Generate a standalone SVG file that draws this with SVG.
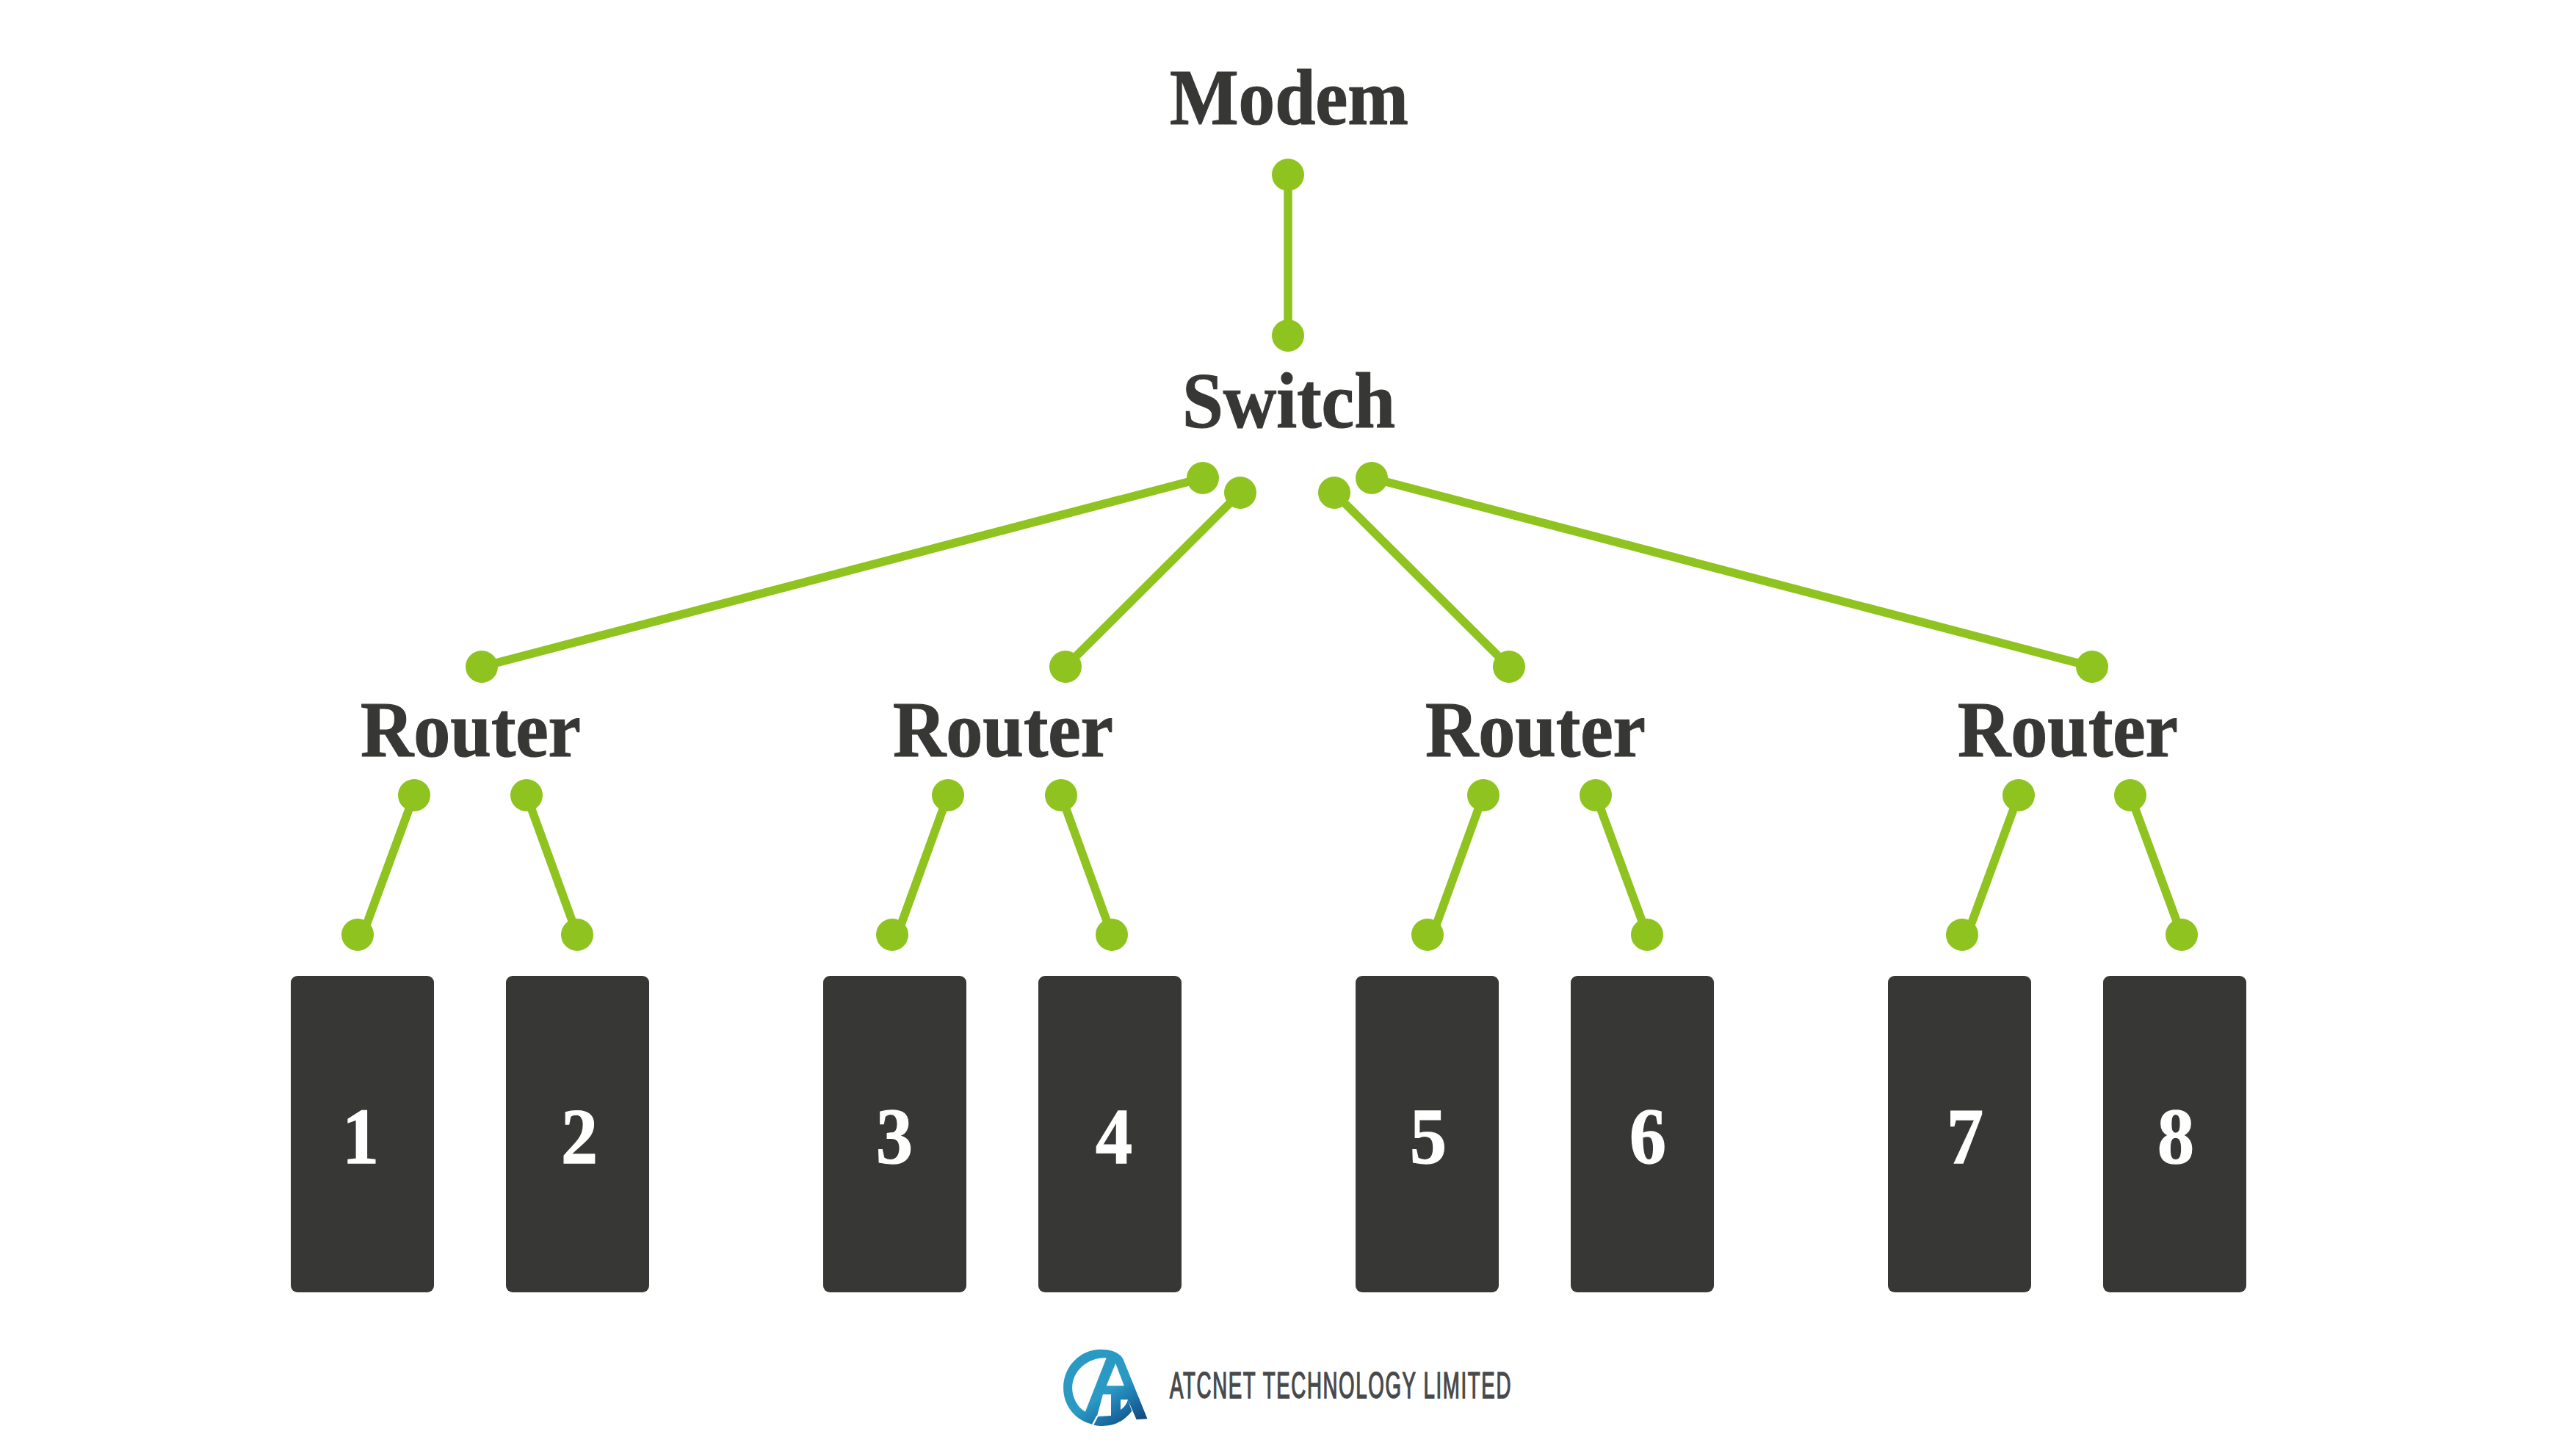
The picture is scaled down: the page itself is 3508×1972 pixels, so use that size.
<svg xmlns="http://www.w3.org/2000/svg" width="3508" height="1972" viewBox="0 0 3508 1972">
<style>
.t{font-family:"Liberation Serif","Times New Roman",serif;font-weight:700;font-size:109px;fill:#373735;stroke:#373735;stroke-width:1.2px}
.n{font-family:"Liberation Serif","Times New Roman",serif;font-weight:700;font-size:109px;fill:#fff;stroke:#fff;stroke-width:1.4px}
.b{fill:#373735}
.c line{stroke:#8fc31f;stroke-width:11.5}
.c circle{fill:#8fc31f;r:22px}
.w{fill:#fff}
</style>
<defs><linearGradient id="lg" gradientUnits="userSpaceOnUse" x1="150" y1="210" x2="335" y2="400"><stop offset="0.4" stop-color="#2a9ac5"/><stop offset="0.72" stop-color="#1a6da3"/><stop offset="1" stop-color="#13457a"/></linearGradient></defs>
<rect width="3508" height="1972" fill="#fff"/>
<g id="connectors" class="c">
<line x1="1754" y1="238" x2="1754" y2="457"/><circle cx="1754" cy="238"/><circle cx="1754" cy="457"/>
<line x1="1638" y1="651" x2="656" y2="908"/><circle cx="1638" cy="651"/><circle cx="656" cy="908"/>
<line x1="1689" y1="671" x2="1451" y2="908"/><circle cx="1689" cy="671"/><circle cx="1451" cy="908"/>
<line x1="1817" y1="671" x2="2055" y2="908"/><circle cx="1817" cy="671"/><circle cx="2055" cy="908"/>
<line x1="1868" y1="651" x2="2849" y2="908"/><circle cx="1868" cy="651"/><circle cx="2849" cy="908"/>
<line x1="564" y1="1083" x2="494" y2="1273"/><circle cx="564" cy="1083"/><circle cx="487" cy="1273"/>
<line x1="717" y1="1083" x2="786" y2="1273"/><circle cx="717" cy="1083"/><circle cx="786" cy="1273"/>
<line x1="1291" y1="1083" x2="1222" y2="1273"/><circle cx="1291" cy="1083"/><circle cx="1215" cy="1273"/>
<line x1="1445" y1="1083" x2="1514" y2="1273"/><circle cx="1445" cy="1083"/><circle cx="1514" cy="1273"/>
<line x1="2020" y1="1083" x2="1951" y2="1273"/><circle cx="2020" cy="1083"/><circle cx="1944" cy="1273"/>
<line x1="2173" y1="1083" x2="2243" y2="1273"/><circle cx="2173" cy="1083"/><circle cx="2243" cy="1273"/>
<line x1="2749" y1="1083" x2="2679" y2="1273"/><circle cx="2749" cy="1083"/><circle cx="2672" cy="1273"/>
<line x1="2901" y1="1083" x2="2971" y2="1273"/><circle cx="2901" cy="1083"/><circle cx="2971" cy="1273"/>
</g>
<g id="modem"><text class="t" x="1593" y="169" textLength="325" lengthAdjust="spacingAndGlyphs">Modem</text></g>
<g id="switch"><text class="t" x="1610" y="582" textLength="290" lengthAdjust="spacingAndGlyphs">Switch</text></g>
<g id="router-1"><text class="t" x="491" y="1030" textLength="300" lengthAdjust="spacingAndGlyphs">Router</text></g>
<g id="router-2"><text class="t" x="1216" y="1030" textLength="300" lengthAdjust="spacingAndGlyphs">Router</text></g>
<g id="router-3"><text class="t" x="1941" y="1030" textLength="300" lengthAdjust="spacingAndGlyphs">Router</text></g>
<g id="router-4"><text class="t" x="2666" y="1030" textLength="300" lengthAdjust="spacingAndGlyphs">Router</text></g>
<g id="device-1"><rect class="b" x="396" y="1329" width="195" height="431" rx="9"/><text class="n" x="466" y="1584" textLength="50" lengthAdjust="spacingAndGlyphs">1</text></g>
<g id="device-2"><rect class="b" x="689" y="1329" width="195" height="431" rx="9"/><text class="n" x="764" y="1584" textLength="50" lengthAdjust="spacingAndGlyphs">2</text></g>
<g id="device-3"><rect class="b" x="1121" y="1329" width="195" height="431" rx="9"/><text class="n" x="1193" y="1584" textLength="50" lengthAdjust="spacingAndGlyphs">3</text></g>
<g id="device-4"><rect class="b" x="1414" y="1329" width="195" height="431" rx="9"/><text class="n" x="1492" y="1584" textLength="50" lengthAdjust="spacingAndGlyphs">4</text></g>
<g id="device-5"><rect class="b" x="1846" y="1329" width="195" height="431" rx="9"/><text class="n" x="1920" y="1584" textLength="50" lengthAdjust="spacingAndGlyphs">5</text></g>
<g id="device-6"><rect class="b" x="2139" y="1329" width="195" height="431" rx="9"/><text class="n" x="2219" y="1584" textLength="50" lengthAdjust="spacingAndGlyphs">6</text></g>
<g id="device-7"><rect class="b" x="2571" y="1329" width="195" height="431" rx="9"/><text class="n" x="2651" y="1584" textLength="50" lengthAdjust="spacingAndGlyphs">7</text></g>
<g id="device-8"><rect class="b" x="2864" y="1329" width="195" height="431" rx="9"/><text class="n" x="2938" y="1584" textLength="50" lengthAdjust="spacingAndGlyphs">8</text></g>
<g id="logo">
<g transform="translate(1400,1800) scale(0.4808,0.3333)">
<path fill="url(#lg)" d="M183 420C130 400 100 340 100 270C100 180 150 113 205 113C240 113 262 130 270 155L338 397L307 400L283 320L294 365C270 410 240 428 205 426Q193 426 183 420Z"/>
<path class="w" d="M222 148C170 145 125 200 125 270C125 310 140 350 162 368Z"/>
<path class="w" d="M248 170L272 262L222 262Z"/>
<path class="w" d="M212 297L235 297L235 384L195 388Z"/>
<path class="w" d="M262 318L283 318Q278 345 262 360Z"/>
<path d="M196 386L183 422" stroke="#fff" stroke-width="5" fill="none"/>
</g>
<text x="1593" y="1904" textLength="466" lengthAdjust="spacingAndGlyphs" style="font-family:'Liberation Sans Narrow','Liberation Sans',sans-serif;font-size:50px;letter-spacing:3px;fill:#48494b;stroke:#48494b;stroke-width:1.6px">ATCNET TECHNOLOGY LIMITED</text>
</g>
</svg>
